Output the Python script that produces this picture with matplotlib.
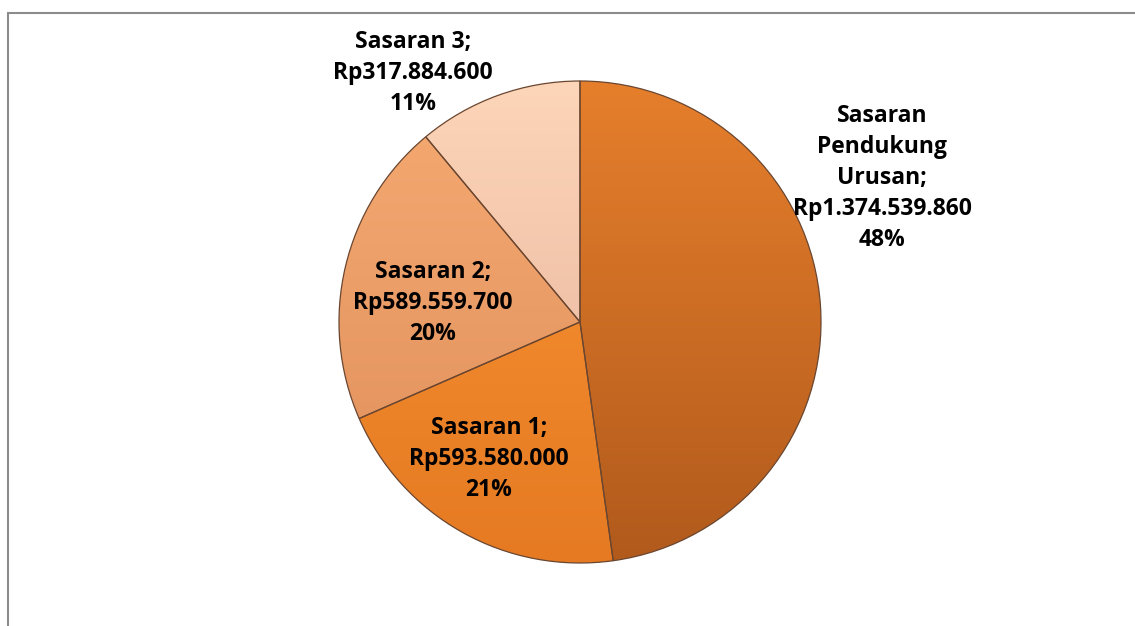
import matplotlib.pyplot as plt
import matplotlib.colors as mcolors
from matplotlib.patches import Rectangle
import numpy as np

labels = ["Sasaran\nPendukung\nUrusan;", "Sasaran 1;", "Sasaran 2;", "Sasaran 3;"]
values = [1374539860, 593580000, 589559700, 317884600]
percents = ["48%", "21%", "20%", "11%"]
top_colors = ["#e67f2c", "#fb9535", "#f6ab72", "#fdd5b8"]
bottom_colors = ["#b15a1c", "#e57a22", "#de8d5a", "#e4b09a"]

# label centres in pixels of the 1135x626 picture
label_px = [(882, 178), (489, 459), (433, 303), (413, 73)]

W, H = 1135, 626
cx, cy, r = 580, 322, 241

fig = plt.figure(figsize=(W / 100, H / 100), dpi=100)
ax = fig.add_axes([0, 0, 1, 1])
ax.axis("off")

wedges, _ = ax.pie(values, startangle=90, counterclock=False, radius=1,
                   colors=top_colors,
                   wedgeprops=dict(edgecolor="#6a4630", linewidth=0.9))

# vertical gradient inside each slice
grad = np.linspace(0, 1, 256).reshape(-1, 1)
for w, c1, c2 in zip(wedges, top_colors, bottom_colors):
    cmap = mcolors.LinearSegmentedColormap.from_list("g", [c2, c1])
    im = ax.imshow(grad, cmap=cmap, extent=(-1, 1, -1, 1), origin="lower",
                   zorder=w.get_zorder() + 0.1)
    im.set_clip_path(w)
    w.set_facecolor("none")
    w.set_zorder(w.get_zorder() + 0.2)

ax.set_aspect("equal")
ax.set_xlim(-cx / r, (W - cx) / r)
ax.set_ylim((cy - H) / r, cy / r)

for lab, v, pct, (px, py) in zip(labels, values, percents, label_px):
    amount = "Rp" + f"{v:,}".replace(",", ".")
    ax.text((px - cx) / r, (cy - py) / r, f"{lab}\n{amount}\n{pct}",
            ha="center", va="center", fontsize=16.5, fontweight="bold",
            family="Open Sans", linespacing=1.4, zorder=10)

fig.patches.append(Rectangle((8 / W, -0.1), 1.2, (H - 13) / H + 0.1,
                             transform=fig.transFigure, fill=False,
                             edgecolor="#8c8c8c", linewidth=1.5))

fig.savefig("out.png", dpi=100)
